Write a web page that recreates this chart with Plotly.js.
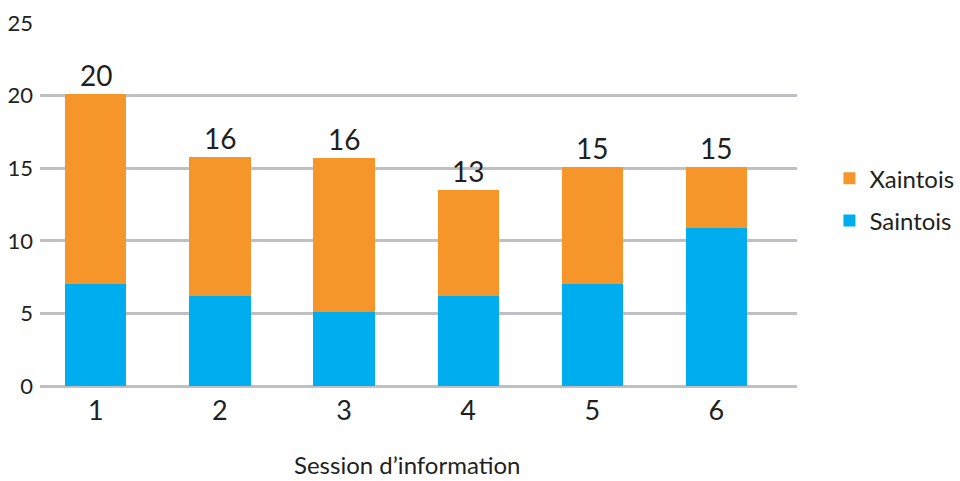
<!DOCTYPE html>
<html>
<head>
<meta charset="utf-8">
<script src="https://cdn.plot.ly/plotly-3.0.1.min.js"></script>
<style>html,body{margin:0;padding:0;background:#fff;}#chart{width:960px;height:481px;}</style>
</head>
<body>
<div id="chart"></div>
<script>
const categories = ["1", "2", "3", "4", "5", "6"];
const saintois = [7.0, 6.2, 5.1, 6.2, 7.0, 10.9];
const xaintois = [13.1, 9.6, 10.6, 7.3, 8.1, 4.2];
const totalLabels = ["20", "16", "16", "13", "15", "15"];
const yTicks = [0, 5, 10, 15, 20, 25];

const FONT = 'Lato, "Liberation Sans", sans-serif';
const TXT = '#231f20';

const traces = [
  {type: 'bar', name: 'Saintois', x: categories, y: saintois, legendgroup: 's', legendrank: 2,
   marker: {color: '#00AEEF'}, hoverinfo: 'none'},
  {type: 'bar', name: 'Xaintois', x: categories, y: xaintois, legendgroup: 'x', legendrank: 1,
   marker: {color: '#F6962A'}, hoverinfo: 'none'}
];

const annotations = categories.map((c, i) => ({
  x: i, y: saintois[i] + xaintois[i], xref: 'x', yref: 'y',
  text: totalLabels[i], showarrow: false, yanchor: 'bottom', yshift: 0,
  font: {family: FONT, size: 28, color: TXT}
}));
annotations.push({
  xref: 'paper', yref: 'paper', x: (407 - 40) / 757, y: -0.215,
  text: 'Session d\u2019information', showarrow: false, xanchor: 'center', yanchor: 'middle',
  font: {family: FONT, size: 24, color: TXT}
});

const layout = {
  width: 960, height: 481,
  margin: {l: 40, r: 163, t: 23, b: 95, pad: 0},
  paper_bgcolor: '#fff', plot_bgcolor: '#fff',
  barmode: 'stack', bargap: 0.507,
  showlegend: true,
  legend: {xref: 'container', yref: 'container', x: 0.864, y: 0.585, xanchor: 'left', yanchor: 'middle',
           traceorder: 'grouped', tracegroupgap: 8,
           font: {family: FONT, size: 24, color: TXT}, bgcolor: 'rgba(0,0,0,0)'},
  xaxis: {type: 'category', range: [-0.45, 5.65], showgrid: false, zeroline: false,
          showline: false, ticks: '', tickfont: {family: FONT, size: 27, color: TXT},
          ticklabelstandoff: 6, fixedrange: true},
  yaxis: {range: [0, 25], tickvals: yTicks, ticktext: yTicks.map(String),
          showgrid: true, gridcolor: '#BFBFC4', gridwidth: 3,
          zeroline: true, zerolinecolor: '#BFBFC4', zerolinewidth: 3,
          showline: false, ticks: '', ticklabelstandoff: 6,
          tickfont: {family: FONT, size: 22, color: TXT}, fixedrange: true},
  annotations: annotations
};

Plotly.newPlot('chart', traces, layout, {displayModeBar: false, staticPlot: true});
</script>
</body>
</html>
